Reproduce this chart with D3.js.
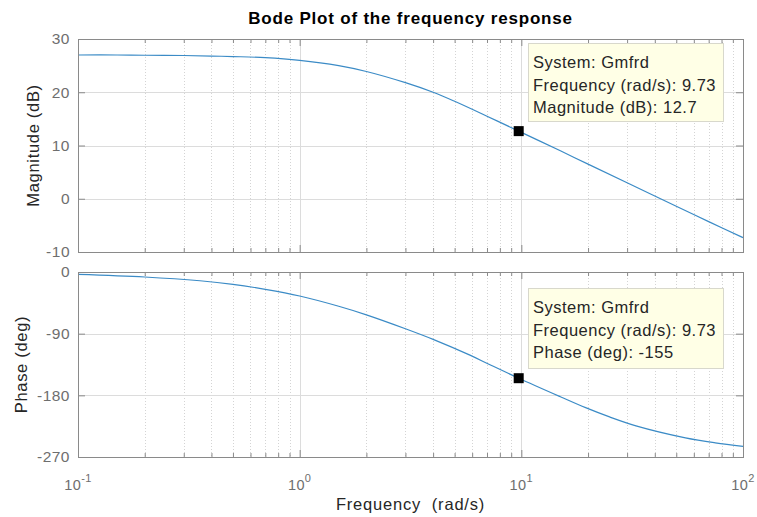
<!DOCTYPE html>
<html>
<head>
<meta charset="utf-8">
<script src="https://cdn.jsdelivr.net/npm/d3@7"></script>
<style>
  body { margin: 0; background: #fff; }
  svg { font-family: "Liberation Sans", Arial, sans-serif; }
  .grid line { stroke: #dcdcdc; stroke-width: 1; }
  .grid .minor { stroke-dasharray: 1,2; stroke: #d4d4d4; }
  .ax path, .ax line { stroke: #8a8a8a; }
  .ax text { fill: #6e6e6e; font-size: 15.5px; letter-spacing: 0.5px; }
</style>
</head>
<body>
<svg width="757" height="517"></svg>
<script>
// frequency points (rad/s)
var magFreq = [0.1, 0.15, 0.2, 0.3, 0.4, 0.5, 0.7, 1, 1.5, 2, 3, 4, 5, 7, 9.73, 15, 20, 30, 50, 70, 100];
// magnitude in dB
var magnitude = [27.0, 27.0, 26.95, 26.9, 26.8, 26.7, 26.5, 26.0, 25.0, 23.9, 21.8, 20.0, 18.3, 15.5, 12.7, 9.0, 6.5, 3.0, -1.4, -4.3, -7.3];

var phaseFreq = [0.1, 0.2, 0.355, 0.5, 0.7, 1, 1.5, 2, 3, 4, 5.83, 7.18, 9.73, 15, 19.5, 25, 32.9, 55, 75, 100];
// phase in degrees
var phase = [-3.5, -7.3, -12.8, -18, -25.3, -35, -50, -62.5, -82.8, -98.3, -121, -135, -155, -182, -198, -211.5, -224.5, -242, -249.3, -254.4];

var magTicks = [30, 20, 10, 0, -10];
var phaseTicks = [0, -90, -180, -270];
var decades = [0.1, 1, 10, 100];
var decadeExp = ["-1", "0", "1", "2"];

var tip = { freq: 9.73, mag: 12.7, phase: -155, system: "Gmfrd" };

var svg = d3.select("svg"),
    left = 78, right = 743,
    width = right - left;

var panels = [
  { top: 39, height: 213, domain: [-10, 30], ticks: magTicks, freq: magFreq, values: magnitude, label: "Magnitude (dB)", labelX: 33,
    tipY: 43, tipH: 78, tipLines: ["System: " + tip.system, "Frequency (rad/s): " + tip.freq, "Magnitude (dB): " + tip.mag], tipVal: tip.mag },
  { top: 272, height: 185, domain: [-270, 0], ticks: phaseTicks, freq: phaseFreq, values: phase, label: "Phase (deg)", labelX: 21,
    tipY: 288, tipH: 80, tipLines: ["System: " + tip.system, "Frequency (rad/s): " + tip.freq, "Phase (deg): " + tip.phase], tipVal: tip.phase }
];

var x = d3.scaleLog().domain([0.1, 100]).range([0, width]);

// minor tick values 2..9 of each decade
var minor = [];
decades.slice(0, 3).forEach(function(d) {
  for (var k = 2; k <= 9; k++) minor.push(d * k);
});

panels.forEach(function(p) {
  var g = svg.append("g").attr("transform", "translate(" + left + "," + p.top + ")");
  var y = d3.scaleLinear().domain(p.domain).range([p.height, 0]);

  // grid
  var grid = g.append("g").attr("class", "grid");
  grid.selectAll(".minor").data(minor).enter().append("line")
      .attr("class", "minor")
      .attr("x1", function(d) { return Math.round(x(d)) + 0.5; })
      .attr("x2", function(d) { return Math.round(x(d)) + 0.5; })
      .attr("y1", 0).attr("y2", p.height);
  grid.selectAll(".major").data(decades).enter().append("line")
      .attr("class", "major")
      .attr("x1", function(d) { return Math.round(x(d)) + 0.5; })
      .attr("x2", function(d) { return Math.round(x(d)) + 0.5; })
      .attr("y1", 0).attr("y2", p.height);
  grid.selectAll(".hz").data(p.ticks).enter().append("line")
      .attr("class", "hz")
      .attr("x1", 0).attr("x2", width)
      .attr("y1", function(d) { return Math.round(y(d)) + 0.5; })
      .attr("y2", function(d) { return Math.round(y(d)) + 0.5; });

  // the curve
  var pts = p.freq.map(function(f, i) { return [f, p.values[i]]; });
  var line = d3.line()
      .x(function(d) { return x(d[0]); })
      .y(function(d) { return y(d[1]); })
      .curve(d3.curveCatmullRom.alpha(0.5));
  g.append("path")
      .datum(pts)
      .attr("fill", "none")
      .attr("stroke", "#3b8bc6")
      .attr("stroke-width", 1.2)
      .attr("d", line);

  // axes, ticks pointing inward
  g.append("g").attr("class", "ax")
      .call(d3.axisLeft(y).tickValues(p.ticks).tickSizeInner(-7).tickSizeOuter(0).tickPadding(8)
        .tickFormat(function(d) { return String(d); }));
  g.append("g").attr("class", "ax")
      .attr("transform", "translate(" + width + ",0)")
      .call(d3.axisRight(y).tickValues(p.ticks).tickSizeInner(-7).tickSizeOuter(0).tickFormat(""));
  [0, p.height].forEach(function(yy) {
    var mk = yy === 0 ? d3.axisTop : d3.axisBottom;
    g.append("g").attr("class", "ax")
        .attr("transform", "translate(0," + yy + ")")
        .call(mk(x).tickValues(decades).tickSizeInner(-7).tickSizeOuter(0).tickFormat(""));
    g.append("g").attr("class", "ax")
        .attr("transform", "translate(0," + yy + ")")
        .call(mk(x).tickValues(minor).tickSizeInner(-4).tickSizeOuter(0).tickFormat(""));
  });
  g.append("rect")
      .attr("x", 0.5).attr("y", 0.5)
      .attr("width", width).attr("height", p.height)
      .attr("fill", "none").attr("stroke", "#8a8a8a");

  // y label
  svg.append("text")
      .attr("transform", "translate(" + p.labelX + "," + (p.top + p.height / 2) + ") rotate(-90)")
      .attr("text-anchor", "middle")
      .attr("dy", "0.35em")
      .attr("fill", "#262626")
      .style("font-size", "16.5px")
      .style("letter-spacing", "0.7px")
      .text(p.label);

  // data tip
  var tg = g.append("g");
  tg.append("rect")
      .attr("x", 528 - left + 0.5).attr("y", p.tipY - p.top + 0.5)
      .attr("width", 195).attr("height", p.tipH)
      .attr("fill", "#ffffe6").attr("stroke", "#d8d8cc");
  tg.selectAll("text").data(p.tipLines).enter().append("text")
      .attr("x", 533 - left)
      .attr("y", function(d, i) { return p.tipY - p.top + 19.5 + i * 22.5; })
      .attr("dy", "0.35em")
      .attr("fill", "#262626")
      .style("font-size", "16.5px")
      .style("letter-spacing", "0.5px")
      .text(function(d) { return d; });
  g.append("rect")
      .attr("x", x(tip.freq) - 5).attr("y", y(p.tipVal) - 5)
      .attr("width", 10).attr("height", 10)
      .attr("fill", "#000");
});

// x tick labels with exponents
var bottom = panels[1].top + panels[1].height;
var xl = svg.append("g").attr("transform", "translate(" + left + "," + (bottom + 33) + ")");
decades.forEach(function(d, i) {
  var t = xl.append("text")
      .attr("x", x(d))
      .attr("text-anchor", "middle")
      .attr("fill", "#6e6e6e")
      .style("font-size", "14.5px")
      .style("letter-spacing", "0.4px");
  t.append("tspan").text("10");
  t.append("tspan").attr("dy", "-8").style("font-size", "11px").text(decadeExp[i]);
});

svg.append("text")
    .attr("x", left + width / 2)
    .attr("y", 510)
    .attr("text-anchor", "middle")
    .attr("fill", "#262626")
    .style("font-size", "16.5px")
    .style("letter-spacing", "0.8px")
    .style("white-space", "pre")
    .text("Frequency  (rad/s)");

svg.append("text")
    .attr("x", left + width / 2)
    .attr("y", 24)
    .attr("text-anchor", "middle")
    .attr("fill", "#000")
    .style("font-size", "17px")
    .style("font-weight", "bold")
    .style("letter-spacing", "0.8px")
    .text("Bode Plot of the frequency response");
</script>
</body>
</html>
